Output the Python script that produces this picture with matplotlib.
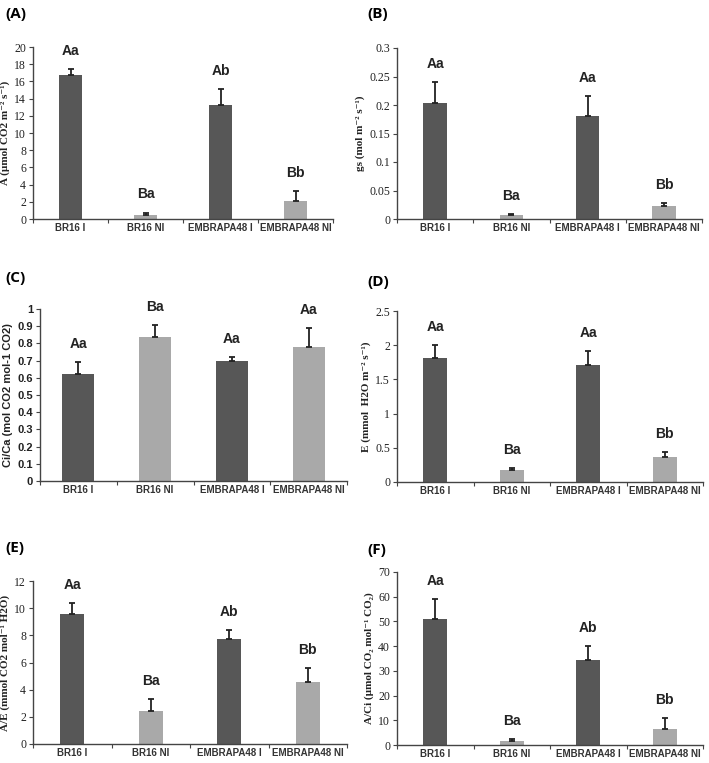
import matplotlib
matplotlib.use("Agg")
import matplotlib.pyplot as plt

W, H = 709, 763

CATEGORIES = ["BR16 I", "BR16 NI", "EMBRAPA48 I", "EMBRAPA48 NI"]

A_VALUES = [16.8, 0.5, 13.3, 2.1]
A_ERRORS = [0.6, 0.25, 1.8, 1.1]
A_LETTERS = ["Aa", "Ba", "Ab", "Bb"]

GS_VALUES = [0.203, 0.007, 0.181, 0.023]
GS_ERRORS = [0.037, 0.002, 0.035, 0.005]
GS_LETTERS = ["Aa", "Ba", "Aa", "Bb"]

CICA_VALUES = [0.62, 0.835, 0.695, 0.78]
CICA_ERRORS = [0.07, 0.07, 0.025, 0.11]
CICA_LETTERS = ["Aa", "Ba", "Aa", "Aa"]

E_VALUES = [1.81, 0.18, 1.71, 0.37]
E_ERRORS = [0.19, 0.03, 0.21, 0.07]
E_LETTERS = ["Aa", "Ba", "Aa", "Bb"]

AE_VALUES = [9.55, 2.4, 7.75, 4.55]
AE_ERRORS = [0.85, 0.9, 0.65, 1.05]
AE_LETTERS = ["Aa", "Ba", "Ab", "Bb"]

ACI_VALUES = [51.0, 1.5, 34.5, 6.5]
ACI_ERRORS = [8.0, 1.0, 5.5, 4.5]
ACI_LETTERS = ["Aa", "Ba", "Ab", "Bb"]

DARK = "#575757"
LIGHT = "#a9a9a9"
BAR_COLORS = [DARK, LIGHT, DARK, LIGHT]

SERIF = ["Liberation Serif", "DejaVu Serif"]
SANS = ["Liberation Sans", "DejaVu Sans"]


def make_axes(fig, left, right, top, bottom):
    return fig.add_axes([left / W, 1 - bottom / H, (right - left) / W, (bottom - top) / H])


def draw_panel(ax, values, errors, letters, ylim, step, ylabel, tick_fmt,
               serif=True, width=0.31):
    x = [i + 0.5 for i in range(len(values))]
    ax.bar(x, values, width=width, color=BAR_COLORS, zorder=2)
    ax.errorbar(x, values, yerr=[[0] * len(errors), errors], fmt="none",
                ecolor="#222222", elinewidth=1.3, capsize=2.3, capthick=1.3, zorder=3)
    for xi, v, e, lab in zip(x, values, errors, letters):
        ax.annotate(lab, (xi, v + e), xytext=(0, 8), textcoords="offset points",
                    ha="center", va="bottom", fontsize=10, fontweight="bold",
                    family=SANS, color="#222222")

    ax.set_xlim(0, len(values))
    ax.set_ylim(0, ylim)
    ax.set_xticks(range(len(values) + 1))
    ax.set_xticklabels([])
    ax.set_xticks(x, minor=True)
    ax.set_xticklabels(CATEGORIES, minor=True, fontsize=7, fontweight="bold",
                       family=SANS, color="#333333")
    ax.tick_params(axis="x", which="minor", length=0, pad=3)
    ax.tick_params(axis="x", which="major", length=3, direction="out", color="#444444")

    n = int(round(ylim / step))
    ticks = [round(i * step, 4) for i in range(n + 1)]
    ax.set_yticks(ticks)
    ax.set_yticklabels([tick_fmt(t) for t in ticks], family=SERIF if serif else SANS,
                       fontsize=8.5 if serif else 8, fontweight="normal" if serif else "bold",
                       color="#222222")
    ax.tick_params(axis="y", length=3, direction="out", color="#444444", pad=2)

    ax.set_ylabel(ylabel, family=SERIF if serif else SANS, fontsize=8,
                  fontweight="bold", color="#222222", labelpad=3)

    for side in ["top", "right"]:
        ax.spines[side].set_visible(False)
    for side in ["left", "bottom"]:
        ax.spines[side].set_color("#444444")
        ax.spines[side].set_linewidth(1.0)


def fmt_general(t):
    return f"{t:g}"


def main():
    fig = plt.figure(figsize=(W / 100, H / 100), dpi=100)

    ax_a = make_axes(fig, 33, 333, 47, 219)
    draw_panel(ax_a, A_VALUES, A_ERRORS, A_LETTERS, 20, 2,
               "A (µmol CO2 m⁻² s⁻¹)", fmt_general)

    ax_b = make_axes(fig, 397, 702, 48, 219)
    draw_panel(ax_b, GS_VALUES, GS_ERRORS, GS_LETTERS, 0.3, 0.05,
               "gs (mol m⁻² s⁻¹)", fmt_general)

    ax_c = make_axes(fig, 40, 347, 309, 481)
    draw_panel(ax_c, CICA_VALUES, CICA_ERRORS, CICA_LETTERS, 1.0, 0.1,
               "Ci/Ca (mol CO2 mol-1 CO2)", fmt_general, serif=False, width=0.42)

    ax_d = make_axes(fig, 397, 703, 311, 482)
    draw_panel(ax_d, E_VALUES, E_ERRORS, E_LETTERS, 2.5, 0.5,
               "E (mmol  H2O m⁻² s⁻¹)", fmt_general)

    ax_e = make_axes(fig, 33, 347, 581, 744)
    draw_panel(ax_e, AE_VALUES, AE_ERRORS, AE_LETTERS, 12, 2,
               "A/E (mmol CO2 mol⁻¹ H2O)", fmt_general)

    ax_f = make_axes(fig, 397, 703, 572, 745)
    draw_panel(ax_f, ACI_VALUES, ACI_ERRORS, ACI_LETTERS, 70, 10,
               "A/Ci (µmol CO₂ mol⁻¹ CO₂)", fmt_general)

    labels = [("(A)", 5, 14), ("(B)", 367, 14), ("(C)", 5, 278),
              ("(D)", 367, 282), ("(E)", 5, 548), ("(F)", 367, 550)]
    for text, px, py in labels:
        fig.text(px / W, 1 - py / H, text, fontsize=11, fontweight="bold",
                 family=["Open Sans", "DejaVu Sans"], va="center", ha="left")

    fig.savefig("out.png", dpi=100)
    plt.close(fig)


if __name__ == "__main__":
    main()
